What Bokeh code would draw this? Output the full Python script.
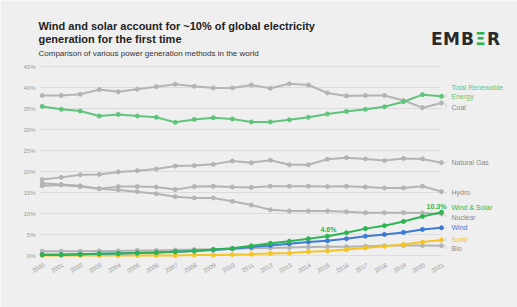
from bokeh.plotting import figure
from bokeh.models import Range1d, Label, ColumnDataSource
from bokeh.core.properties import value
from bokeh.embed import file_html
from bokeh.resources import INLINE
import math

years = [2000, 2001, 2002, 2003, 2004, 2005, 2006, 2007, 2008, 2009, 2010,
         2011, 2012, 2013, 2014, 2015, 2016, 2017, 2018, 2019, 2020, 2021]
coal = [38.1, 38.1, 38.4, 39.5, 39.0, 39.6, 40.2, 40.8, 40.3, 39.9, 39.9,
        40.6, 39.8, 40.9, 40.6, 38.7, 38.0, 38.1, 38.1, 36.9, 35.2, 36.3]
renewables = [35.5, 34.8, 34.4, 33.2, 33.6, 33.2, 32.9, 31.7, 32.4, 32.8, 32.5,
              31.8, 31.8, 32.3, 32.9, 33.7, 34.3, 34.8, 35.4, 36.6, 38.3, 37.9]
gas = [18.1, 18.6, 19.2, 19.3, 19.9, 20.2, 20.6, 21.3, 21.4, 21.7, 22.5,
       22.1, 22.7, 21.6, 21.6, 22.9, 23.3, 23.0, 22.6, 23.1, 23.0, 22.1]
hydro = [16.6, 16.8, 16.4, 15.9, 16.4, 16.4, 16.3, 15.7, 16.4, 16.5, 16.3,
         16.2, 16.5, 16.5, 16.5, 16.4, 16.5, 16.3, 16.1, 16.1, 16.5, 15.2]
nuclear = [17.2, 16.9, 16.6, 15.9, 15.6, 15.2, 14.7, 14.0, 13.7, 13.7, 12.9,
           12.0, 10.9, 10.6, 10.6, 10.6, 10.4, 10.2, 10.2, 10.2, 10.1, 9.9]
wind_solar = [0.2, 0.2, 0.3, 0.4, 0.5, 0.6, 0.7, 0.9, 1.1, 1.4, 1.7,
              2.3, 2.9, 3.4, 4.0, 4.6, 5.4, 6.4, 7.1, 8.1, 9.3, 10.3]
wind = [0.2, 0.2, 0.3, 0.4, 0.5, 0.6, 0.7, 0.9, 1.1, 1.3, 1.6,
        2.0, 2.4, 2.8, 3.2, 3.5, 4.0, 4.6, 5.0, 5.5, 6.2, 6.6]
solar = [0.0, 0.0, 0.0, 0.0, 0.0, 0.0, 0.0, 0.0, 0.1, 0.1, 0.2,
         0.3, 0.5, 0.6, 0.9, 1.1, 1.4, 1.8, 2.2, 2.6, 3.2, 3.7]
bio = [1.0, 1.0, 1.0, 1.1, 1.1, 1.2, 1.2, 1.3, 1.4, 1.5, 1.6,
       1.7, 1.8, 1.9, 2.0, 2.1, 2.1, 2.2, 2.3, 2.4, 2.4, 2.3]
y_ticks = [0, 5, 10, 15, 20, 25, 30, 35, 40, 45]

BG = "#efefef"
GRAY = "#b4b4b4"
LBL_GRAY = "#8a8a8a"
GREEN_LIGHT = "#5fc57b"
GREEN = "#2db552"
BLUE = "#3c7bd6"
YELLOW = "#f5c526"
FONT = "Liberation Sans"

W, H = 517, 307
# plot area inside the canvas (pixels): left, right, top, bottom
PL, PR, PT, PB = 40, 441, 66, 255
x0, x1 = years[0] - 0.09, years[-1]
y0, y1 = y_ticks[0], y_ticks[-1]
ppx = (PR - PL) / (x1 - x0)
ppy = (PB - PT) / (y1 - y0)

p = figure(width=W, height=H, output_backend="svg", toolbar_location=None,
           x_range=Range1d(x0 - PL / ppx, x1 + (W - PR) / ppx),
           y_range=Range1d(y0 - (H - PB) / ppy, y1 + PT / ppy),
           x_axis_type=None, y_axis_type=None,
           min_border=0, background_fill_color=BG, border_fill_color=BG,
           outline_line_color=None)
p.grid.visible = False

# gridlines
n = len(y_ticks)
p.segment(x0=[x0] * n, x1=[x1] * n, y0=y_ticks, y1=y_ticks,
          line_color="#dcdcdc", line_width=1)

# y tick labels
p.text(x=[x0] * n, y=y_ticks, text=["%d%%" % t for t in y_ticks], x_offset=-5,
       text_align="right", text_baseline="middle", text_font=value(FONT),
       text_font_size="6px", text_color="#9a9a9a")
# x tick labels
p.text(x=years, y=[y0] * len(years), text=[str(yr) for yr in years],
       x_offset=2, y_offset=9, angle=math.pi / 6,
       text_align="right", text_baseline="middle", text_font=value(FONT),
       text_font_size="6px", text_color="#9a9a9a")

series = [
    (coal, GRAY), (gas, GRAY), (hydro, GRAY), (nuclear, GRAY), (bio, GRAY),
    (solar, YELLOW), (wind, BLUE), (wind_solar, GREEN), (renewables, GREEN_LIGHT),
]
for vals, col in series:
    src = ColumnDataSource(dict(x=years, y=vals))
    p.line("x", "y", source=src, line_color=col, line_width=2)
    p.scatter("x", "y", source=src, size=4, fill_color=col, line_color=col)

# right-hand series labels: (text, anchor value, y offset px, colour, leader mark)
right_labels = [
    ("Total Renewable", renewables[-1], 8.5, GREEN_LIGHT, ""),
    ("Energy", renewables[-1], 0, GREEN_LIGHT, "/"),
    ("Coal", coal[-1], -4.8, LBL_GRAY, "\\"),
    ("Natural Gas", gas[-1], 0.5, LBL_GRAY, "-"),
    ("Hydro", hydro[-1], -1, LBL_GRAY, "-"),
    ("Wind & Solar", wind_solar[-1], 5, GREEN, ""),
    ("Nuclear", nuclear[-1], -3.3, LBL_GRAY, "\\"),
    ("Wind", wind[-1], 0, BLUE, "-"),
    ("Solar", solar[-1], 0, YELLOW, "/"),
    ("Bio", bio[-1], -3, LBL_GRAY, "\\"),
]
for txt, yv, yo, col, mark in right_labels:
    p.add_layout(Label(x=years[-1], y=yv, x_offset=10, y_offset=yo, text=txt,
                       text_font=FONT, text_font_size="7px", text_color=col,
                       text_baseline="middle", text_align="left"))
    if mark:
        p.add_layout(Label(x=years[-1], y=yv, x_offset=4, y_offset=yo / 2, text=mark,
                           text_font=FONT, text_font_size="6px", text_color="#b0b0b0",
                           text_baseline="middle", text_align="center"))

# value callouts
p.add_layout(Label(x=years[-1], y=wind_solar[-1], x_offset=-5, y_offset=6,
                   text="%.1f%%" % wind_solar[-1], text_font=FONT, text_font_size="7px",
                   text_font_style="bold", text_color=GREEN, text_align="center",
                   text_baseline="middle"))
i15 = years.index(2015)
p.add_layout(Label(x=years[i15], y=wind_solar[i15], x_offset=1, y_offset=7,
                   text="%.1f%%" % wind_solar[i15], text_font=FONT, text_font_size="7px",
                   text_font_style="bold", text_color=GREEN, text_align="center",
                   text_baseline="middle"))

# titles (screen units, from bottom of canvas)
p.add_layout(Label(x=38, y=H - 25, x_units="screen", y_units="screen",
                   text="Wind and solar account for ~10% of global electricity",
                   text_font=FONT, text_font_size="11px", text_font_style="bold",
                   text_color="#222222", text_baseline="middle"))
p.add_layout(Label(x=38, y=H - 38, x_units="screen", y_units="screen",
                   text="generation for the first time",
                   text_font=FONT, text_font_size="11px", text_font_style="bold",
                   text_color="#222222", text_baseline="middle"))
p.add_layout(Label(x=38, y=H - 53, x_units="screen", y_units="screen",
                   text="Comparison of various power generation methods in the world",
                   text_font=FONT, text_font_size="8px",
                   text_color="#333333", text_baseline="middle"))

# logo, letter by letter
logo = [("E", 430.5, "#2a2a2a"), ("M", 442.5, "#2a2a2a"), ("B", 460.5, "#2a2a2a"),
        ("\u039e", 474.5, "#2db552"), ("R", 486.5, "#2a2a2a")]
for txt, xx, col in logo:
    p.add_layout(Label(x=xx, y=H - 38, x_units="screen", y_units="screen", text=txt,
                       text_font="DejaVu Sans", text_font_size="17px",
                       text_font_style="bold", text_color=col, text_baseline="middle"))

html = file_html(p, INLINE)
html = html.replace("<body>", '<body style="background:%s">' % BG, 1)
open("out.html", "w").write(html)
